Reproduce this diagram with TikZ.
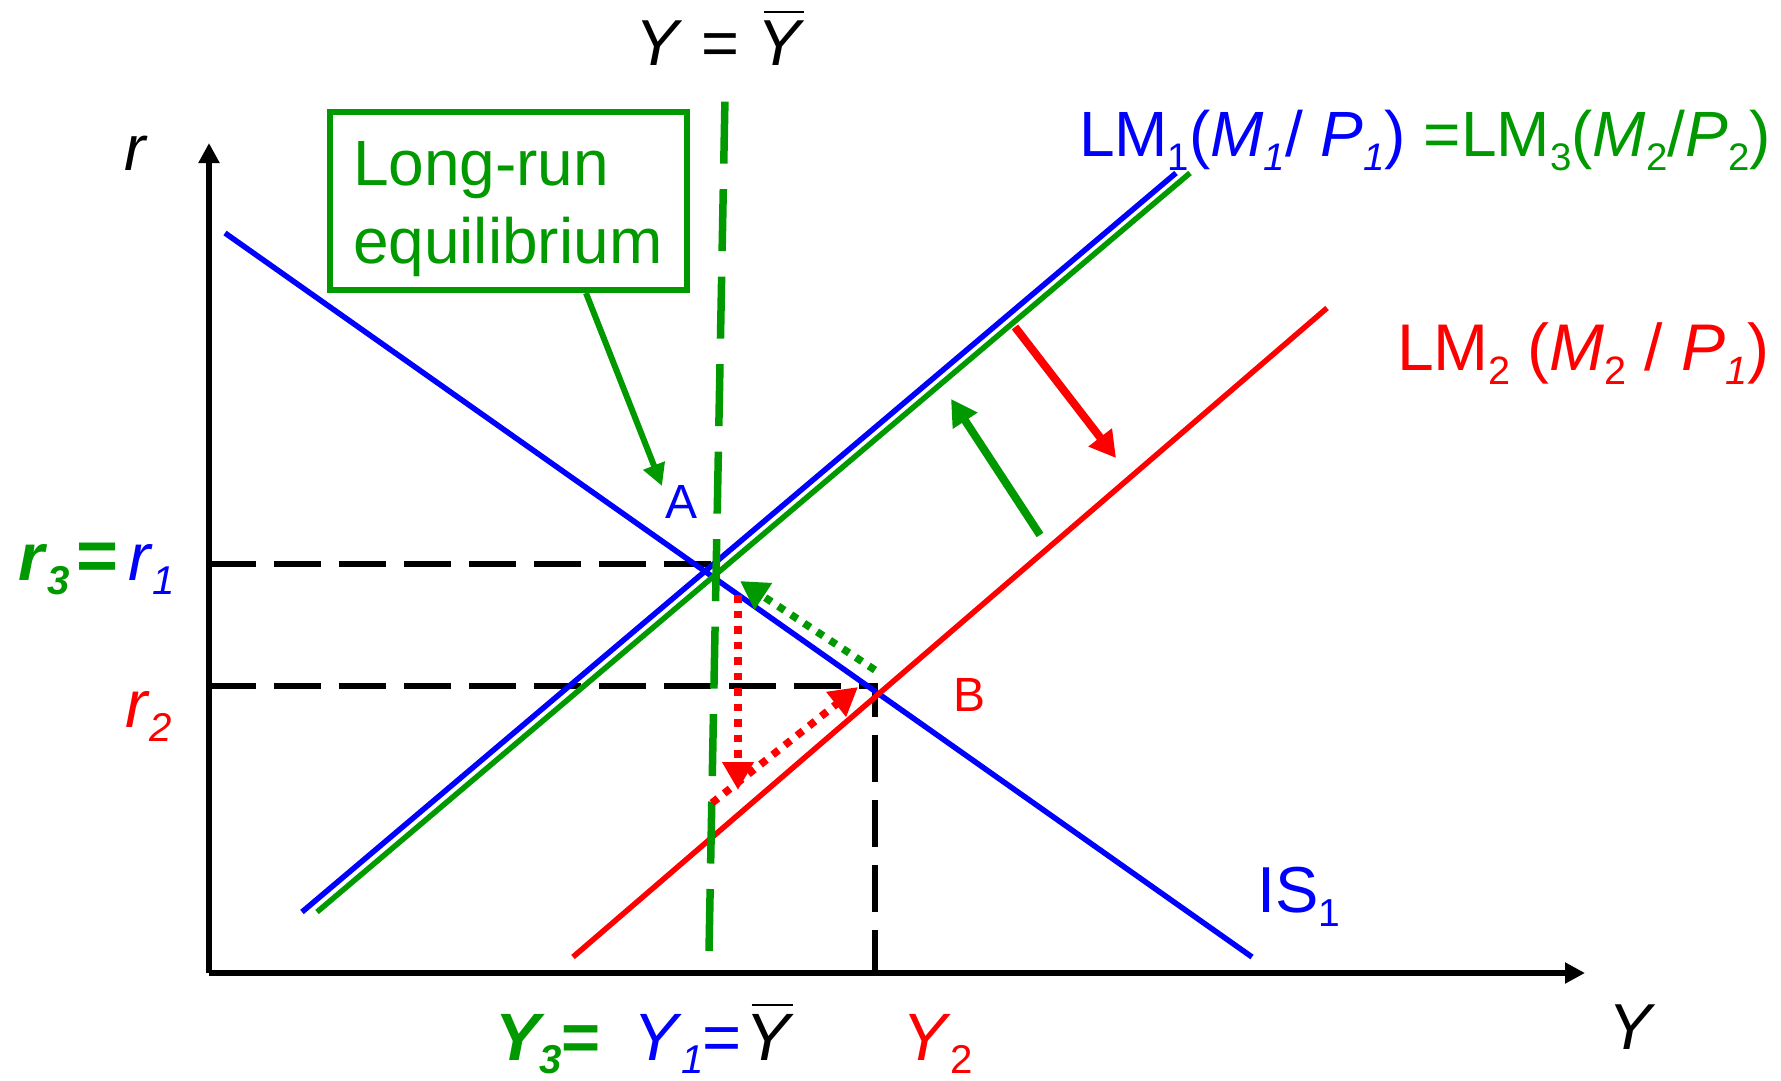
\documentclass[tikz,border=0pt]{standalone}
\usepackage{fontspec}
\setmainfont{Liberation Sans}
\usepackage{graphicx}
\usetikzlibrary{arrows.meta}
\definecolor{cb}{RGB}{0,0,255}
\definecolor{cg}{RGB}{0,153,0}
\definecolor{cr}{RGB}{255,0,0}
\newcommand{\dn}[1]{\raisebox{-0.22em}{\scalebox{0.6}{#1}}}
\newcommand{\ybar}{\rlap{\kern0.1em\raisebox{0.8em}{\rule{0.62em}{0.03em}}}\textit{Y}}
\begin{document}
\begin{tikzpicture}[x=1pt,y=-1pt,
  axis/.style={line width=5.5pt,-{Triangle[length=20pt,width=20pt]}},
  curve/.style={line width=5.5pt},
  guide/.style={line width=5.5pt,dash pattern=on 47pt off 18pt},
  lrline/.style={cg,line width=7.5pt,dash pattern=on 62pt off 25.5pt},
  dots/.style={line width=7.5pt,dash pattern=on 7.5pt off 8pt,-{Triangle[length=28pt,width=30pt]}},
  shiftarrow/.style={line width=8pt,-{Triangle[length=26pt,width=28pt]}},
  lbl/.style={inner sep=0pt,outer sep=0pt},
  big/.style={font=\fontsize{64}{78}\selectfont},
  mid/.style={font=\fontsize{67}{78}\selectfont}]
\useasboundingbox (0,0) rectangle (1781,1080);
% coordinates
\coordinate (O) at (209,973);
\coordinate (Ytop) at (209,143);
\coordinate (Xend) at (1585,973);
\coordinate (IS-a) at (225,233);
\coordinate (IS-b) at (1252,957);
\coordinate (LM1-a) at (302,912);
\coordinate (LM1-b) at (1176,173);
\coordinate (LM3-a) at (317,912);
\coordinate (LM3-b) at (1190,173);
\coordinate (LM2-a) at (573,957);
\coordinate (LM2-b) at (1327,308);
\coordinate (V-bot) at (709,951);
\coordinate (V-top) at (725,97);
\coordinate (r1-a) at (209,564);
\coordinate (r1-b) at (713,564);
\coordinate (r2-a) at (209,686);
\coordinate (B) at (875,686);
\coordinate (Y2-b) at (875,973);
% axes
\draw[axis] (O) -- (Ytop);
\draw[axis] (O) -- (Xend);
% guides
\draw[guide] (r1-a) -- (r1-b);
\draw[guide] (r2-a) -- (B) -- (Y2-b);
% curves
\draw[curve,cb] (IS-a) -- (IS-b);
\draw[curve,cr] (LM2-a) -- (LM2-b);
\draw[curve,cg] (LM3-a) -- (LM3-b);
\draw[curve,cb] (LM1-a) -- (LM1-b);
\draw[lrline] (V-bot) -- (V-top);
% shift arrows
\coordinate (rs-a) at (1015,327);
\coordinate (rs-b) at (1116,458);
\coordinate (gs-a) at (1040,535);
\coordinate (gs-b) at (951,399);
\draw[shiftarrow,cr] (rs-a) -- (rs-b);
\draw[shiftarrow,cg] (gs-a) -- (gs-b);
% dotted adjustment arrows
\coordinate (gd-a) at (875,670);
\coordinate (gd-b) at (740,581);
\coordinate (rd-a) at (738,595);
\coordinate (rd-b) at (738,790);
\coordinate (rd-c) at (712,803);
\coordinate (rd-d) at (858,687);
\draw[dots,cg] (gd-a) -- (gd-b);
\draw[dots,cr] (rd-a) -- (rd-b);
\draw[dots,cr] (rd-c) -- (rd-d);
% long-run box
\node[lbl,draw=cg,line width=6pt,minimum width=357pt,minimum height=178pt] (box) at (508.5,201) {};
\node[lbl,anchor=base west,text=cg,big] (lr1) at (353,185) {Long-run};
\node[lbl,anchor=base west,text=cg,big] (lr2) at (353,263) {equilibrium};
\coordinate (box-arrow) at (586,293);
\coordinate (A-pt) at (662,486);
\draw[cg,line width=6pt,-{Triangle[length=22pt,width=22pt]}] (box-arrow) -- (A-pt);
% labels
\node[lbl,anchor=base,font=\fontsize{65}{78}\selectfont] (ybar-top) at (720,65) {\textit{Y} = \ybar};
\node[lbl,anchor=base west,big] (lm1lbl) at (1079,156) {\textcolor{cb}{LM\dn{1}(\textit{M}\dn{\textit{1}}/ \textit{P}\dn{\textit{1}})} \textcolor{cg}{=LM\dn{3}(\textit{M}\dn{2}/\textit{P}\dn{2})}};
\node[lbl,anchor=base west,text=cr,font=\fontsize{66}{80}\selectfont] (lm2lbl) at (1397,370) {LM\dn{2}\kern-2pt{} (\textit{M}\dn{2} / \textit{P}\dn{\textit{1}})};
\node[lbl,anchor=base west,text=cb,font=\fontsize{65}{78}\selectfont] (islbl) at (1257,912) {IS\dn{1}};
\node[lbl,anchor=base west,big] (rlbl) at (124,170) {\textit{r}};
\node[lbl,anchor=base west,mid,text=cg] (r3) at (18,580) {\textbf{\textit{r}\dn{\textit{3}}}};
\node[lbl,anchor=base west,text=cg,font=\fontsize{72}{80}\selectfont] (r3eq) at (76,580) {\textbf{=}};
\node[lbl,anchor=base west,mid,text=cb] (r1) at (128,580) {\textit{r}\dn{\textit{1}}};
\node[lbl,anchor=base west,text=cr,mid] (r2) at (125,727) {\textit{r}\dn{\textit{2}}};
\node[lbl,anchor=base west,text=cg,mid] (y3) at (495,1060) {\textbf{\textit{Y}\kern-5pt\raisebox{-0.2em}{\scalebox{0.6}{\textit{3}}}}};
\node[lbl,anchor=base west,text=cg,mid] (y3eq) at (561,1060) {\textbf{=}};
\node[lbl,anchor=base west,text=cb,mid] (y1) at (633,1060) {\textit{Y}\raisebox{-0.2em}{\scalebox{0.6}{\textit{1}}}};
\node[lbl,anchor=base west,text=cb,mid] (y1eq) at (702,1060) {=};
\node[lbl,anchor=base west,mid] (ybar-bot) at (745,1060) {\ybar};
\node[lbl,anchor=base west,text=cr,mid] (y2) at (902,1060) {\textit{Y}\raisebox{-0.2em}{\scalebox{0.6}{2}}};
\node[lbl,anchor=base,font=\fontsize{65}{78}\selectfont] (ylbl) at (1632,1049) {\textit{Y}};
\node[lbl,text=cb,font=\fontsize{48}{58}\selectfont] (Albl) at (682,502) {A};
\node[lbl,text=cr,font=\fontsize{48}{58}\selectfont] (Blbl) at (969,695) {B};
\end{tikzpicture}
\end{document}
